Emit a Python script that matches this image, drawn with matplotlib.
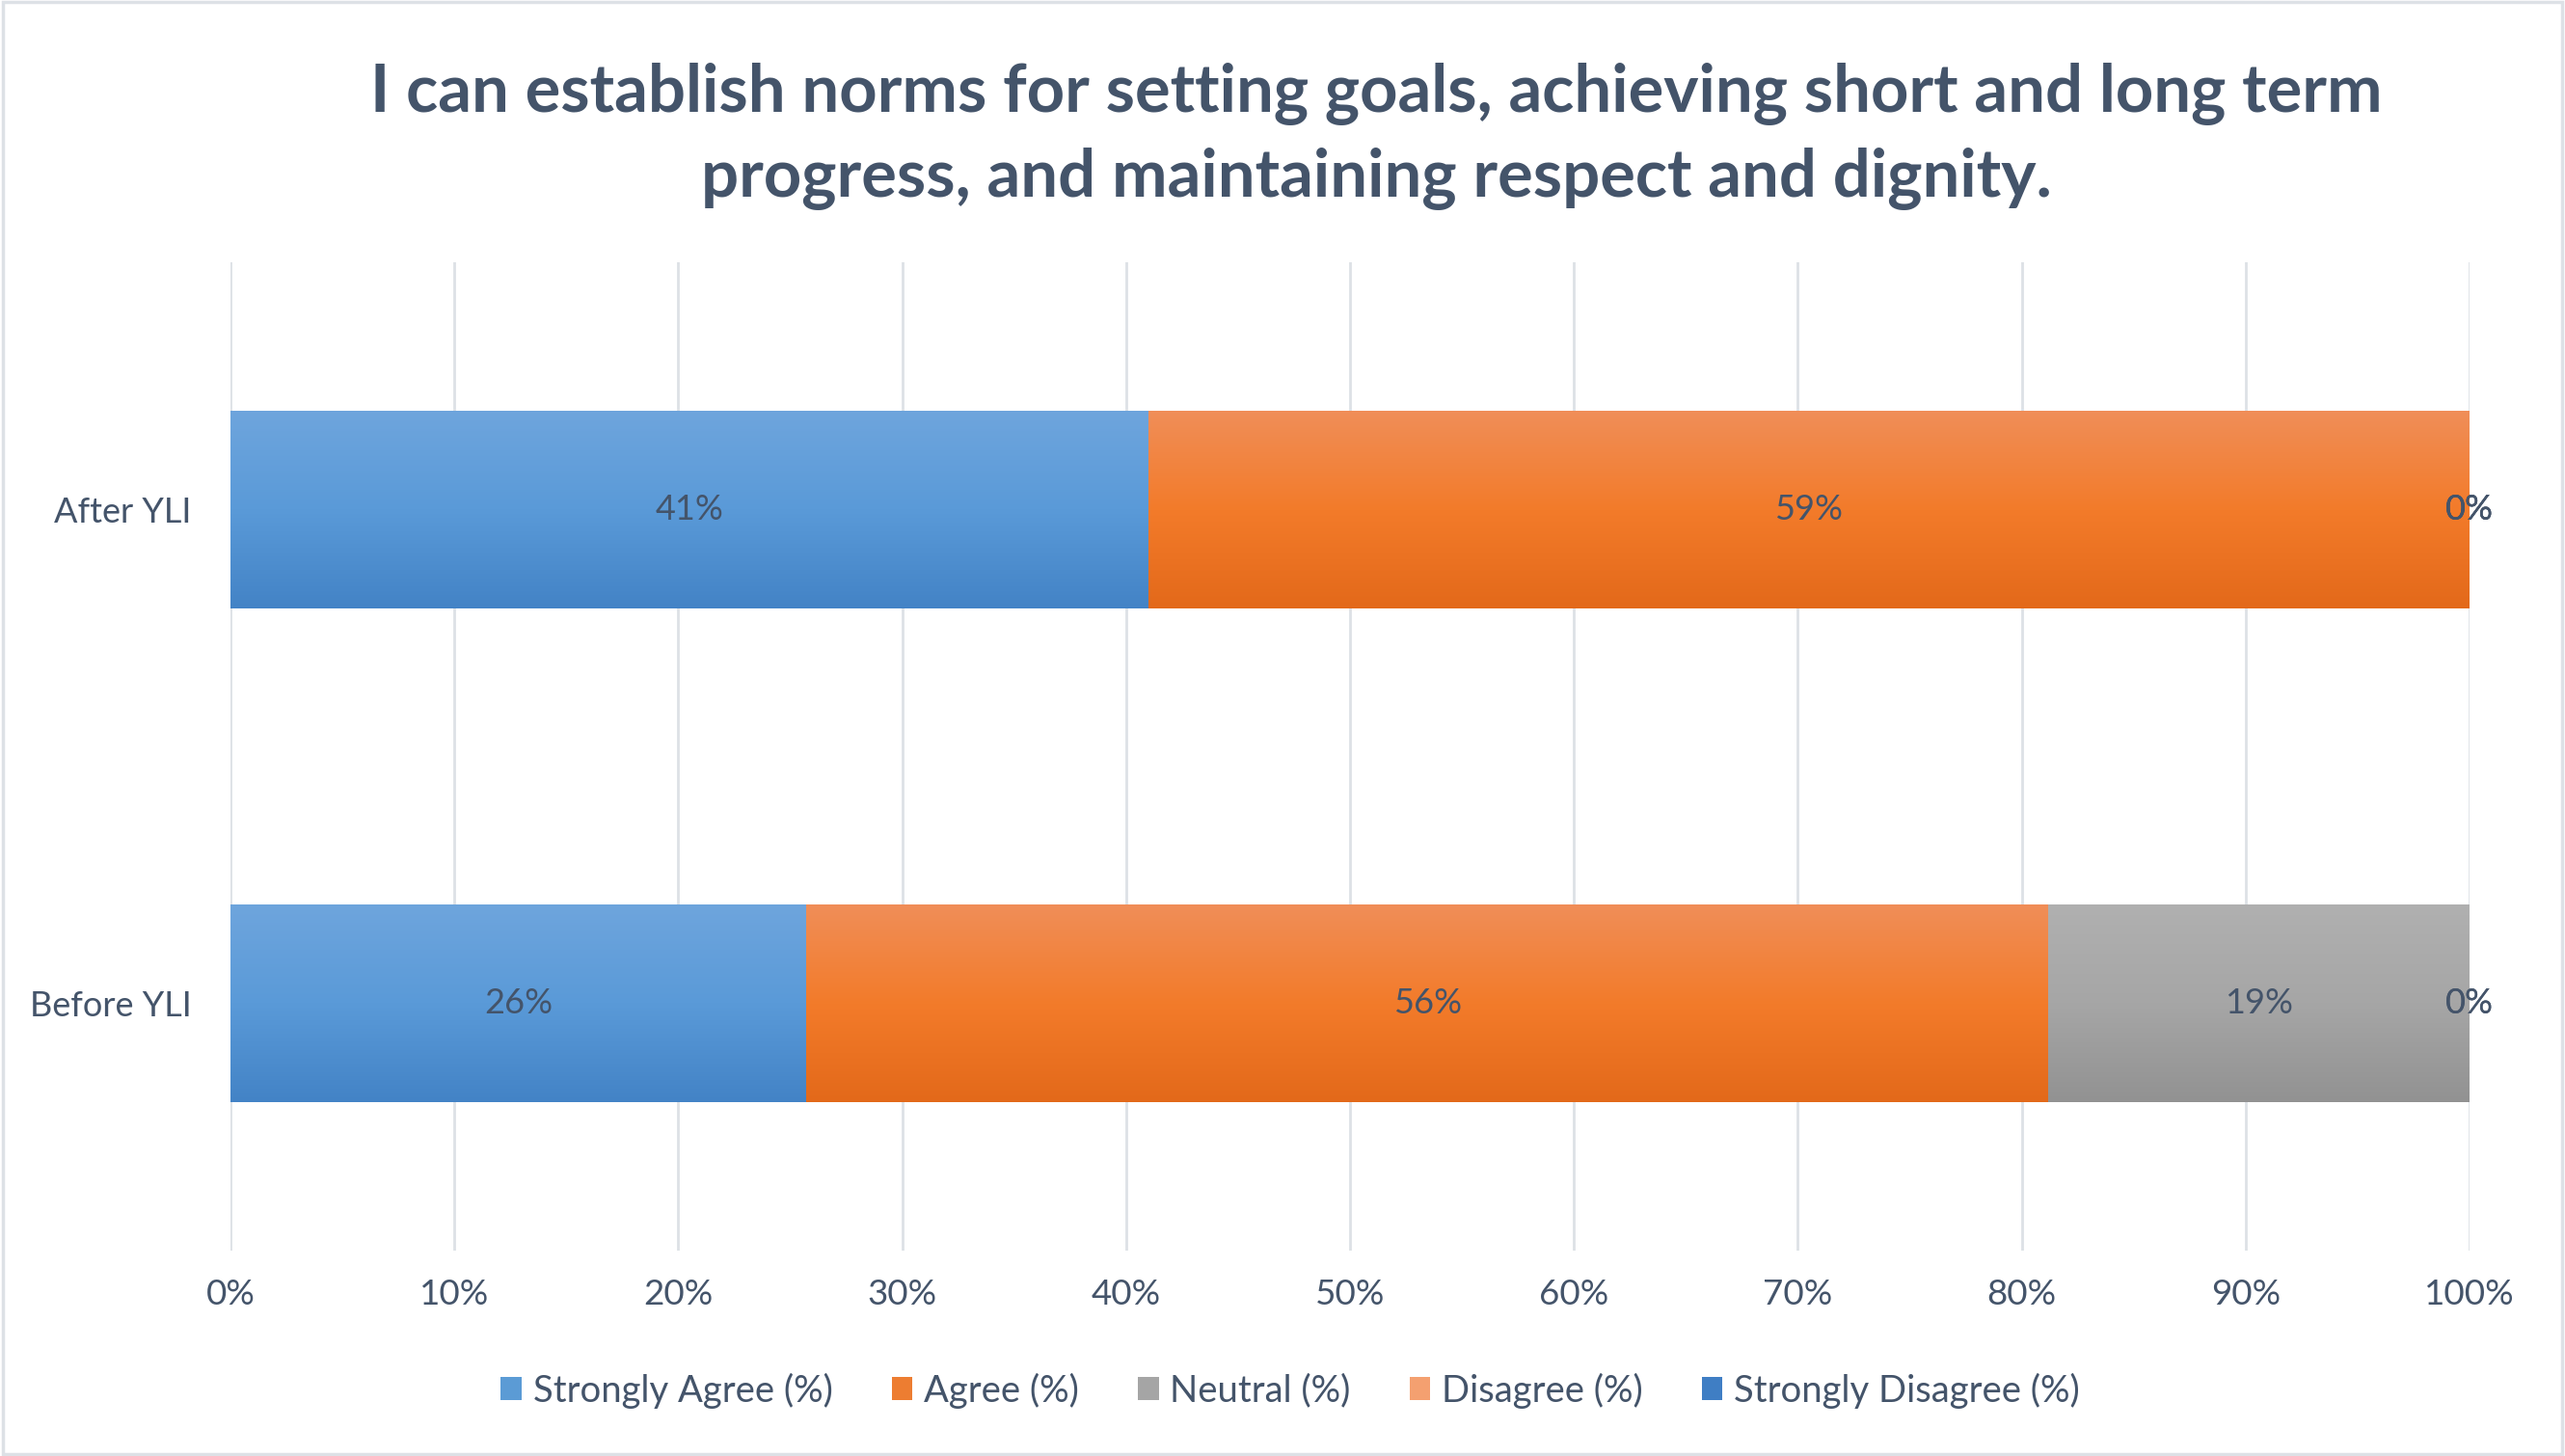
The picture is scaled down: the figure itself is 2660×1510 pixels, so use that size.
import matplotlib
matplotlib.use('Agg')
import matplotlib.pyplot as plt
import numpy as np
from matplotlib.patches import Rectangle, Patch
from matplotlib.colors import LinearSegmentedColormap

# ---------------- data ----------------
categories = ['Before YLI', 'After YLI']
series_names = ['Strongly Agree (%)', 'Agree (%)', 'Neutral (%)',
                'Disagree (%)', 'Strongly Disagree (%)']
strongly_agree = [25.7, 41.0]
agree = [55.5, 59.0]
neutral = [18.8, 0.0]
disagree = [0.0, 0.0]
strongly_disagree = [0.0, 0.0]
x_ticks = [0, 10, 20, 30, 40, 50, 60, 70, 80, 90, 100]
x_tick_labels = ['0%', '10%', '20%', '30%', '40%', '50%', '60%', '70%', '80%', '90%', '100%']
title_lines = ['I can establish norms for setting goals, achieving short and long term',
               'progress, and maintaining respect and dignity.']

# ---------------- style ----------------
FONT = 'Lato'
TXT = '#44546A'
GRID = '#DDE1E6'
# (bottom, middle, top) gradient colours per series
gradients = [
    ('#4383C6', '#5A9AD8', '#6EA5DD'),
    ('#E3691A', '#F37B2A', '#F08E58'),
    ('#929292', '#A6A6A6', '#B0B0B0'),
    ('#F08A50', '#F4A070', '#F6B08A'),
    ('#3470B4', '#3F7EC4', '#5590CE'),
]
legend_colors = ['#5B9BD5', '#ED7D31', '#A5A5A5', '#F4A070', '#3F7EC4']

W, H, DPI = 26.6, 15.1, 100
fig = plt.figure(figsize=(W, H), dpi=DPI)
fig.patch.set_facecolor('white')

left, right = 239 / 2660, 2561 / 2660
top, bottom = 1 - 272 / 1510, 1 - 1297 / 1510
ax = fig.add_axes([left, bottom, right - left, top - bottom])

series = [strongly_agree, agree, neutral, disagree, strongly_disagree]
ypos = np.arange(len(categories))
cum = np.zeros(len(categories))
grad = np.linspace(0, 1, 256).reshape(-1, 1)

for vals, name, gcols in zip(series, series_names, gradients):
    vals = np.asarray(vals, dtype=float)
    cont = ax.barh(ypos, vals, left=cum, height=0.4, color=gcols[1],
                   edgecolor='none', label=name, zorder=2)
    cmap = LinearSegmentedColormap.from_list('g', list(gcols))
    for rect, v in zip(cont.patches, vals):
        x0, y0 = rect.get_x(), rect.get_y()
        w, h = rect.get_width(), rect.get_height()
        if w > 0:
            im = ax.imshow(grad, extent=[x0, x0 + w, y0, y0 + h], origin='lower',
                           cmap=cmap, aspect='auto', interpolation='bicubic',
                           zorder=2.5)
            im.set_clip_path(rect)
        ax.text(x0 + w / 2, y0 + h / 2, f'{int(v + 0.5)}%', ha='center', va='center',
                fontsize=26, color=TXT, family=FONT, zorder=4)
    cum = cum + vals

ax.set_xlim(0, 100)
ax.set_ylim(-0.5, 1.5)
ax.set_xticks(x_ticks)
ax.set_xticklabels(x_tick_labels, fontsize=26.5, color=TXT, family=FONT)
ax.set_yticks(ypos)
ax.set_yticklabels(categories, fontsize=26, color=TXT, family=FONT)
ax.tick_params(axis='x', length=0, pad=21)
ax.tick_params(axis='y', length=0, pad=29)
for s in ax.spines.values():
    s.set_visible(False)
ax.xaxis.grid(True, color=GRID, linewidth=2.0)
ax.set_axisbelow(True)

# title
cx = 1427 / 2660
fig.text(cx, 1 - 116 / 1510, title_lines[0], ha='center', va='baseline',
         fontsize=49.5, fontweight='bold', color=TXT, family=FONT)
fig.text(cx, 1 - 204 / 1510, title_lines[1], ha='center', va='baseline',
         fontsize=49.5, fontweight='bold', color=TXT, family=FONT)

# legend
handles = [Patch(facecolor=c, edgecolor='none') for c in legend_colors]
leg = fig.legend(handles, series_names, loc='center', bbox_to_anchor=(0.503, 1 - 1442 / 1510),
                 ncol=5, frameon=False, handlelength=0.57, handleheight=0.57,
                 handletextpad=0.3, columnspacing=1.6,
                 prop={'family': FONT, 'size': 27.5})
for t in leg.get_texts():
    t.set_color(TXT)

# chart border
fig.patches.append(Rectangle((0.001, 0.001), 0.998, 0.998, transform=fig.transFigure,
                             fill=False, edgecolor=GRID, linewidth=2.5))

fig.savefig('out.png', dpi=DPI)
